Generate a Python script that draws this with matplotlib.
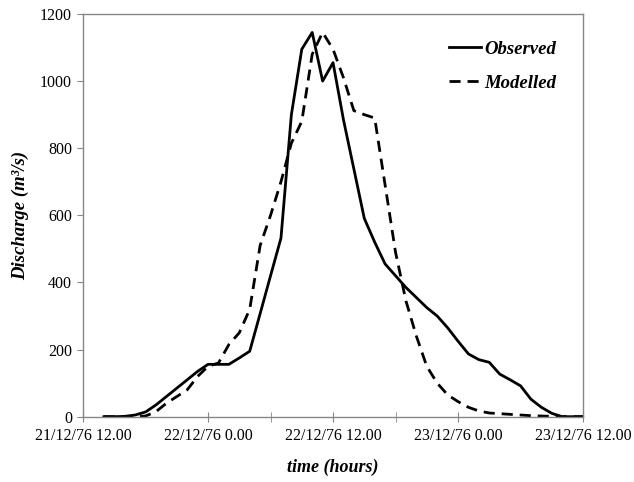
import matplotlib
matplotlib.use("Agg")
import matplotlib.pyplot as plt

# hours after 21/12/76 12.00
hours = list(range(2, 49))

observed = [0, 0, 1, 5, 14, 35, 60, 85, 110, 135,
            156, 156, 156, 175, 195, 307, 420, 532, 900, 1095,
            1145, 1000, 1055, 885, 738, 591, 520, 455, 420, 385,
            355, 325, 300, 265, 225, 187, 170, 162, 127, 110,
            92, 52, 28, 10, 0, 0, 0]

modelled = [0, 0, 0, 0, 2, 15, 40, 60, 80, 120,
            150, 160, 215, 250, 320, 510, 600, 700, 815, 880,
            1080, 1145, 1095, 1010, 912, 900, 890, 690, 490, 345,
            240, 150, 100, 65, 45, 28, 17, 11, 9, 7,
            5, 3, 2, 1, 0, 0, 0]

tick_hours = [0, 12, 24, 36, 48]
tick_labels = ['21/12/76 12.00', '22/12/76 0.00', '22/12/76 12.00',
               '23/12/76 0.00', '23/12/76 12.00']
minor_hours = [18, 30]

plt.rcParams['font.family'] = ['Liberation Serif', 'DejaVu Serif']

fig = plt.figure(figsize=(6.34, 4.82), dpi=100)
ax = fig.add_axes([0.131, 0.1355, 0.7886, 0.8355])

ax.plot(hours, observed, color='black', lw=2.0, label='Observed')
ax.plot(hours, modelled, color='black', lw=2.0, dashes=(4, 2.5), label='Modelled')

ax.set_xlim(0, 48)
ax.set_ylim(0, 1200)
ax.set_xticks(tick_hours)
ax.set_xticklabels(tick_labels)
ax.set_xticks(minor_hours, minor=True)
ax.set_yticks(range(0, 1201, 200))

for s in ax.spines.values():
    s.set_color('#868686')
    s.set_linewidth(1.0)

ax.tick_params(axis='x', which='both', direction='inout', length=7,
               color='#868686', labelsize=11.5, pad=5)
ax.tick_params(axis='y', direction='out', length=4, color='#868686',
               labelsize=11.5, pad=4)

ax.set_xlabel('time (hours)', fontsize=13, fontweight='bold', style='italic',
              labelpad=10)
ax.set_ylabel('Discharge (m³/s)', fontsize=13.5, fontweight='bold', style='italic',
              labelpad=8)

leg = ax.legend(loc='upper right', frameon=False, handlelength=1.7,
                handletextpad=0.15, labelspacing=0.9,
                bbox_to_anchor=(0.98, 0.975),
                prop={'size': 13.5, 'weight': 'bold', 'style': 'italic'})

fig.savefig('out.png', dpi=100)
